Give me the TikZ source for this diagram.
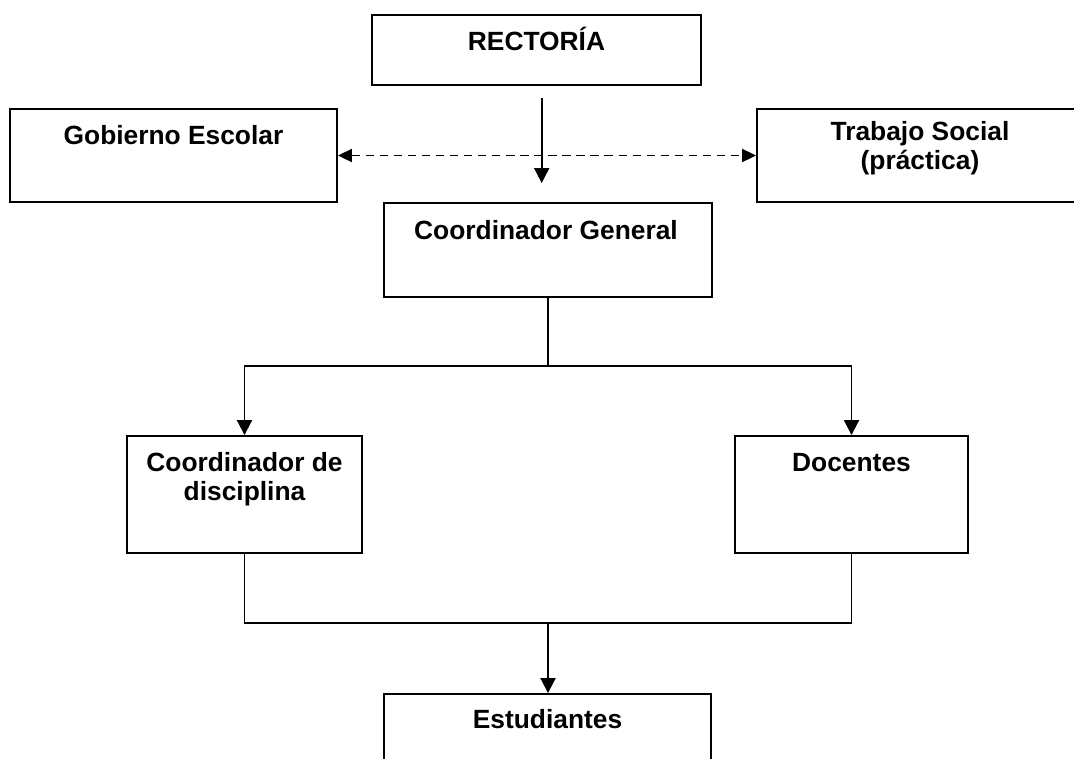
\documentclass[tikz,border=0pt]{standalone}
\usepackage{fontspec}
\setmainfont{Liberation Sans}
\usetikzlibrary{arrows.meta}

\tikzset{
	caja/.style={draw, line width=1.1pt, inner sep=0pt},
	rotulo/.style={inner sep=0pt, anchor=base, align=center, font=\bfseries\fontsize{15}{16.5}\selectfont},
	flecha/.style={line width=1.1pt, -{Triangle[length=0.3cm,width=0.3cm]}},
	punteada/.style={line width=1.1pt, dash pattern=on 4.8pt off 3.2pt, {Triangle[length=0.28cm,width=0.26cm]}-{Triangle[length=0.28cm,width=0.26cm]}},
	linea/.style={line width=1.1pt}
}

\begin{document}
\begin{tikzpicture}[x=0.02cm, y=-0.02cm]
	\useasboundingbox (0,0) rectangle (1074,758);

	% cajas
	\node[caja, minimum width=6.58cm, minimum height=1.4cm] (rect) at (536.5,50) {};
	\node[caja, minimum width=6.54cm, minimum height=1.86cm] (gob) at (173.5,155.5) {};
	\node[caja, minimum width=6.52cm, minimum height=1.86cm] (trab) at (920,155.5) {};
	\node[caja, minimum width=6.56cm, minimum height=1.88cm] (cgen) at (548,250) {};
	\node[caja, minimum width=4.7cm, minimum height=2.34cm] (cdis) at (244.5,494.5) {};
	\node[caja, minimum width=4.66cm, minimum height=2.34cm] (doc) at (851.5,494.5) {};
	\node[caja, minimum width=6.54cm, minimum height=1.8cm] (est) at (547.5,739) {};

	% textos (base = ultima linea)
	\node[rotulo] (trect) at (536.5,50) {RECTORÍA};
	\node[rotulo] (tgob) at (173.5,144) {Gobierno Escolar};
	\node[rotulo] (ttrab) at (920,169) {Trabajo Social\\(práctica)};
	\node[rotulo] (tcgen) at (546,239) {Coordinador General};
	\node[rotulo] (tcdis) at (244.5,500) {Coordinador de\\disciplina};
	\node[rotulo] (tdoc) at (851.5,471) {Docentes};
	\node[rotulo] (test) at (547.5,728) {Estudiantes};

	% conectores
	\coordinate (baja1) at (541.7,98);
	\coordinate (baja2) at (541.7,183);
	\coordinate (rama) at (548,366);
	\coordinate (union) at (548,623);

	\draw[flecha] (baja1) -- (baja2);
	\draw[punteada] (gob.east) -- (trab.west);
	\draw[linea] (cgen.south) -- (rama);
	\draw[flecha] (rama) -| (cdis.north);
	\draw[flecha] (rama) -| (doc.north);
	\draw[linea] (cdis.south) |- (union);
	\draw[linea] (doc.south) |- (union);
	\draw[flecha] (union) -- (union |- est.north);

\end{tikzpicture}
\end{document}
